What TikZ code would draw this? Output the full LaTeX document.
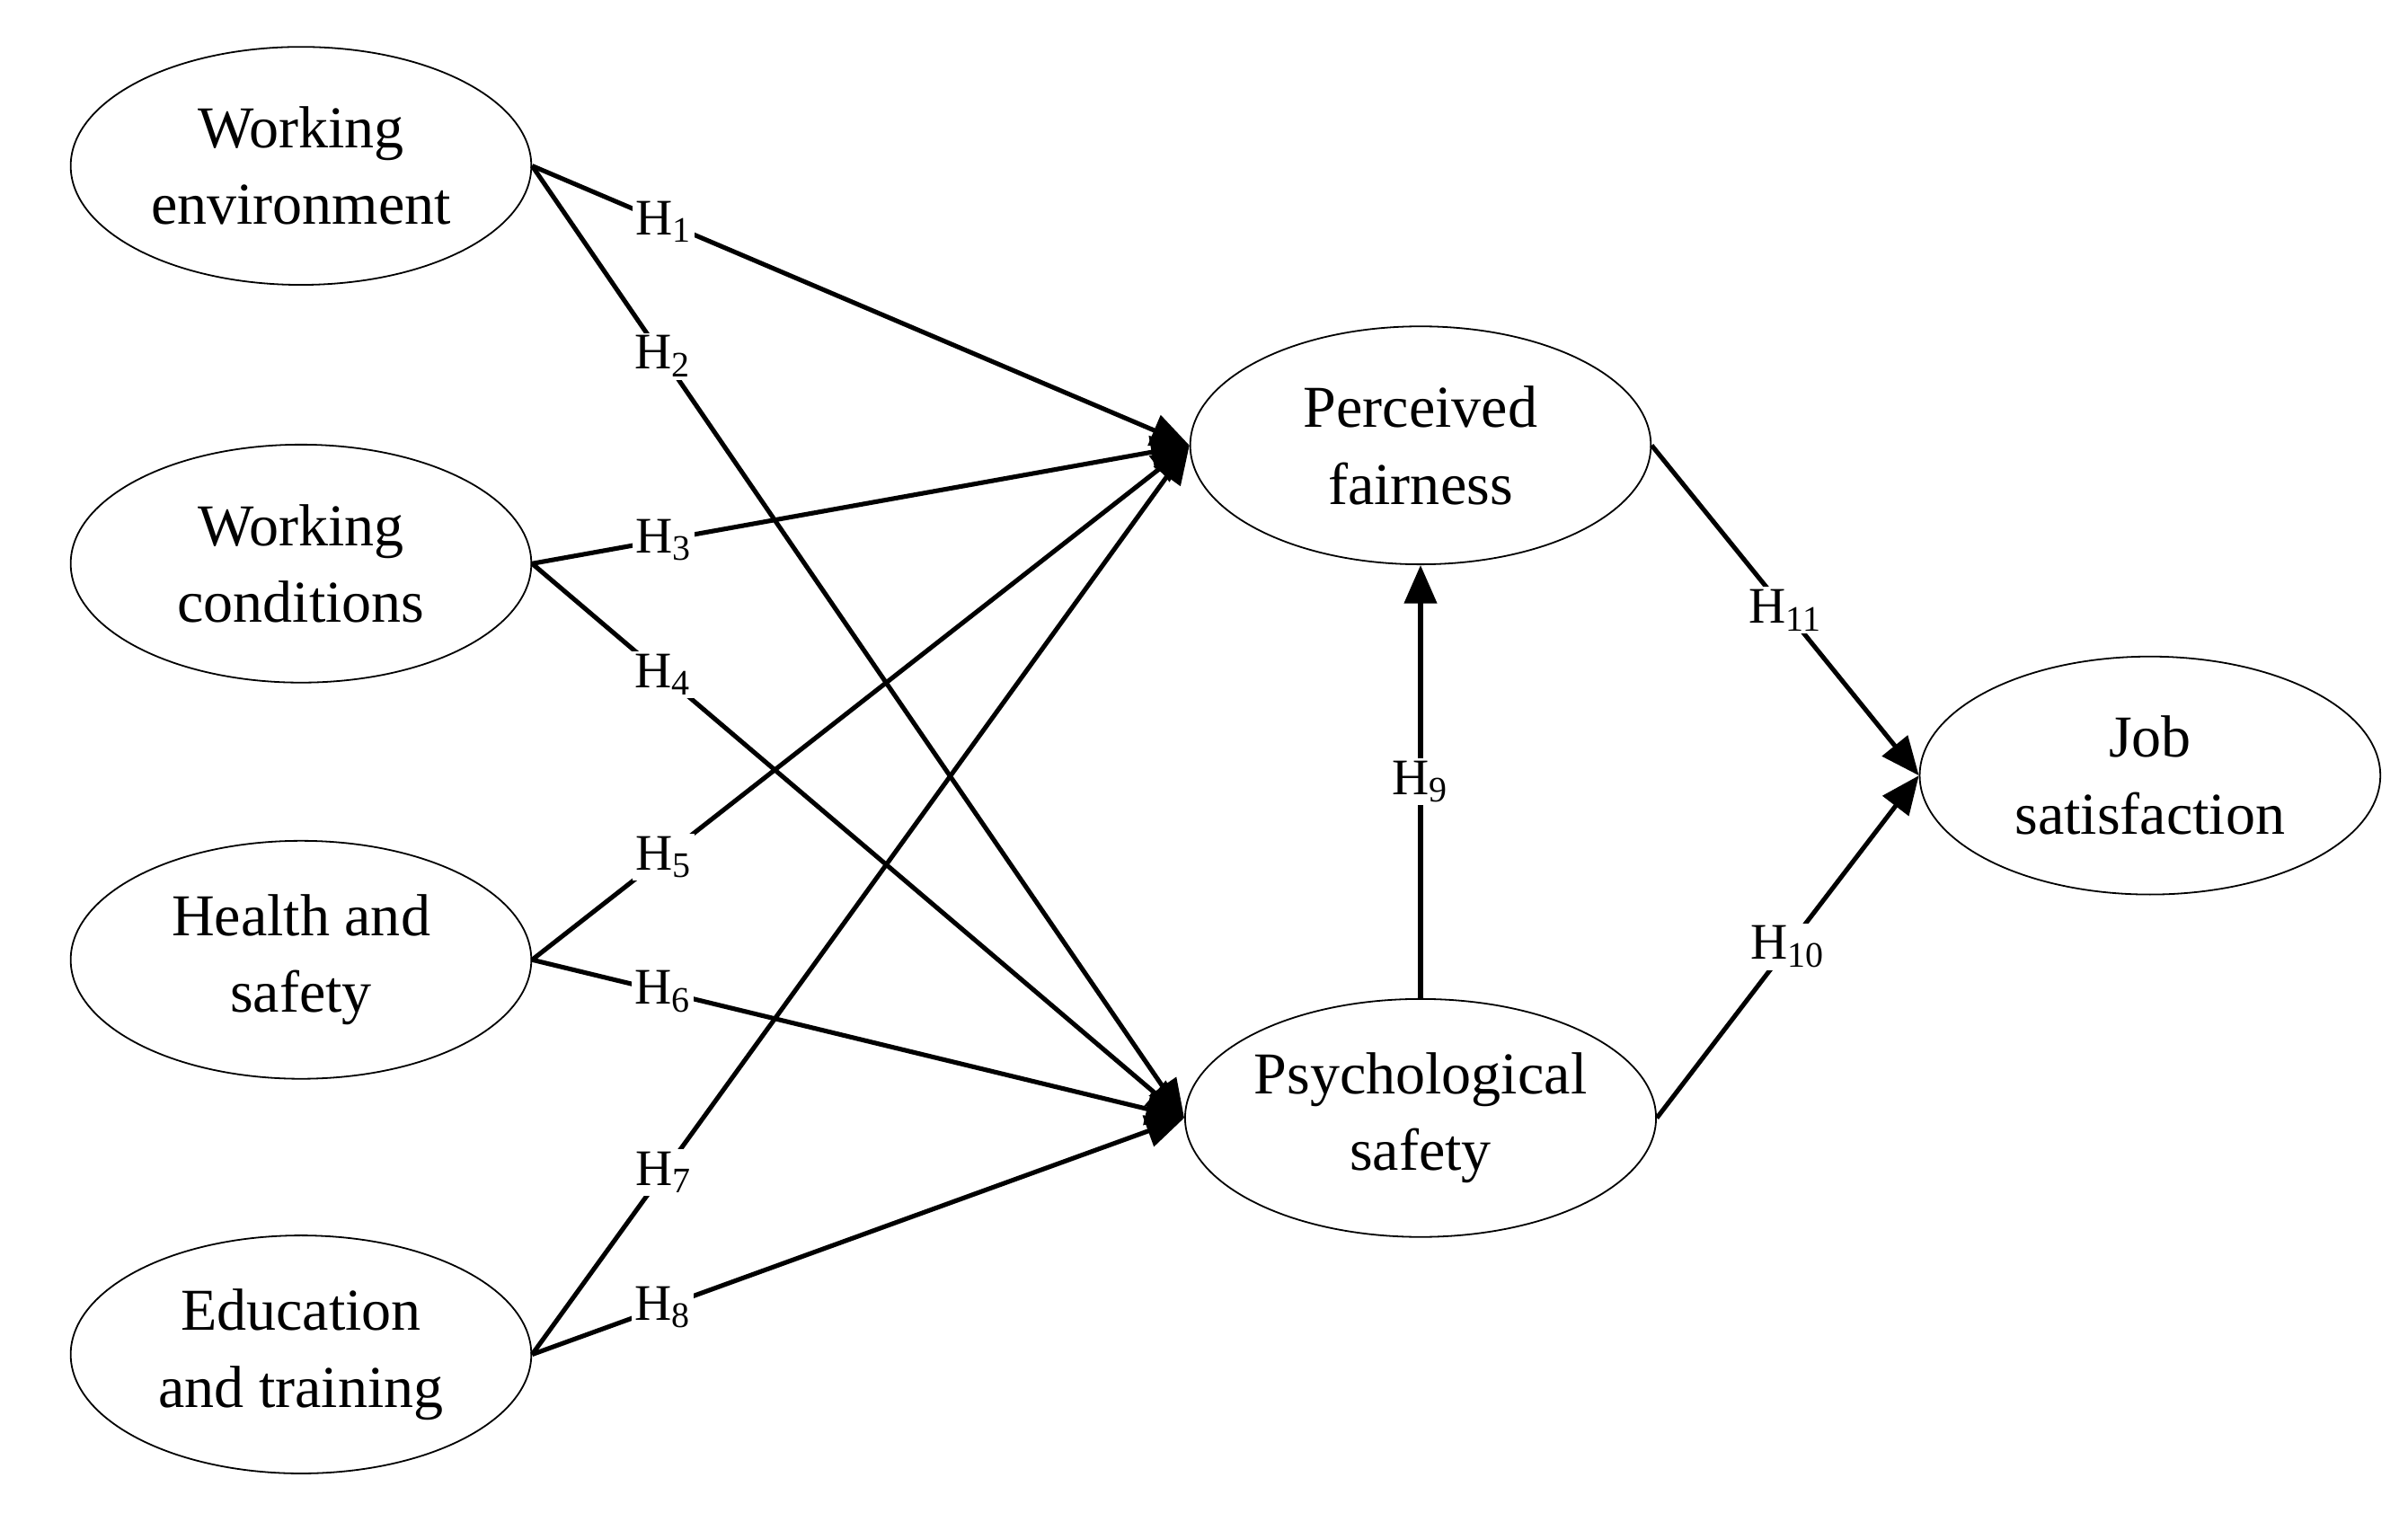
\documentclass[tikz,border=0pt]{standalone}
\usepackage{fontspec}
\setmainfont{Liberation Serif}
\usetikzlibrary{shapes.geometric,arrows.meta}
\begin{document}
\begin{tikzpicture}[x=0.02cm,y=-0.02cm,
  lat/.style={ellipse,draw,line width=0.6pt,minimum width=6cm,minimum height=3.1cm,align=center,font=\fontsize{22}{28.5}\selectfont,inner sep=0pt},
  arr/.style={line width=1.7pt,-{Triangle[length=0.5cm,width=0.42cm]}},
  hl/.style={fill=white,inner sep=1pt,font=\fontsize{19}{22}\selectfont,pos=0.2}]
\useasboundingbox (0,0) rectangle (1568,985);
\node[lat] (we) at (196,108) {Working\\environment};
\node[lat] (wc) at (196,367) {Working\\conditions};
\node[lat] (hs) at (196,625) {Health and\\safety};
\node[lat] (et) at (196,882) {Education\\and training};
\node[lat] (pf) at (925,290) {Perceived\\fairness};
\node[lat] (ps) at (925,728) {Psychological\\safety};
\node[lat] (js) at (1400,505) {Job\\satisfaction};
\draw[arr] (we.east) -- node[hl]{H\textsubscript{1}} (pf.west);
\draw[arr] (we.east) -- node[hl]{H\textsubscript{2}} (ps.west);
\draw[arr] (wc.east) -- node[hl]{H\textsubscript{3}} (pf.west);
\draw[arr] (wc.east) -- node[hl]{H\textsubscript{4}} (ps.west);
\draw[arr] (hs.east) -- node[hl]{H\textsubscript{5}} (pf.west);
\draw[arr] (hs.east) -- node[hl]{H\textsubscript{6}} (ps.west);
\draw[arr] (et.east) -- node[hl]{H\textsubscript{7}} (pf.west);
\draw[arr] (et.east) -- node[hl]{H\textsubscript{8}} (ps.west);
\draw[arr] (ps.north) -- node[hl,pos=0.5]{H\textsubscript{9}} (pf.south);
\draw[arr] (ps.east) -- node[hl,pos=0.5]{H\textsubscript{10}} (js.west);
\draw[arr] (pf.east) -- node[hl,pos=0.5]{H\textsubscript{11}} (js.west);
\end{tikzpicture}
\end{document}
